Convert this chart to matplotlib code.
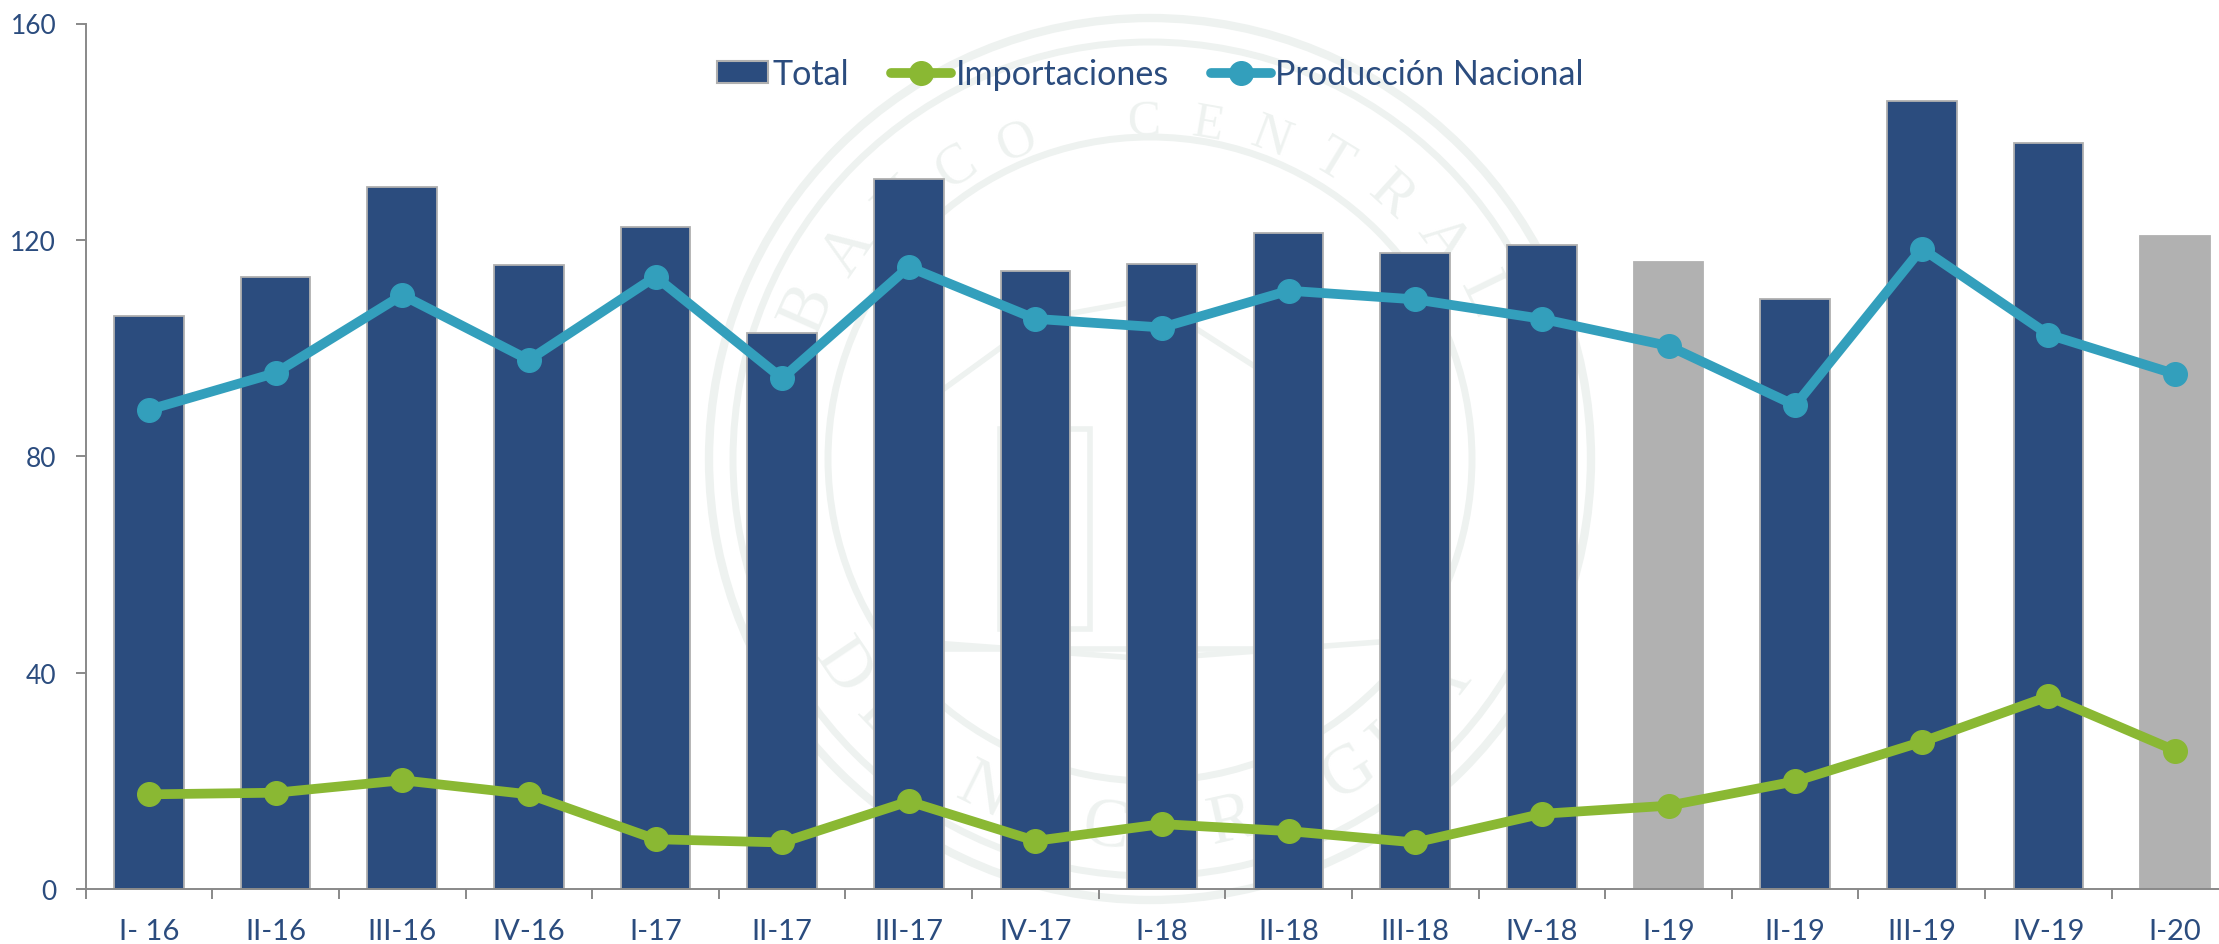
import numpy as np
import matplotlib
matplotlib.use("Agg")
import matplotlib.pyplot as plt
from matplotlib.patches import Circle, Polygon, Rectangle
from matplotlib.lines import Line2D
from matplotlib.legend_handler import HandlerPatch

quarters = ["I- 16", "II-16", "III-16", "IV-16", "I-17", "II-17", "III-17", "IV-17", "I-18",
            "II-18", "III-18", "IV-18", "I-19", "II-19", "III-19", "IV-19", "I-20"]
total = [105.9, 113.2, 129.7, 115.3, 122.4, 102.7, 131.2, 114.2, 115.6,
         121.3, 117.6, 119.0, 116.0, 109.0, 145.6, 138.0, 120.8]
importaciones = [17.5, 17.8, 20.1, 17.5, 9.2, 8.6, 16.2, 8.9, 12.0,
                 10.7, 8.6, 13.9, 15.4, 19.9, 27.2, 35.6, 25.6]
produccion = [88.6, 95.4, 109.8, 97.8, 113.2, 94.4, 115.0, 105.4, 103.8,
              110.6, 109.0, 105.4, 100.4, 89.4, 118.4, 102.5, 95.2]
gray_quarters = ["I-19", "I-20"]

W, H = 2219, 945
NAVY, GREEN, TEAL, BARGRAY, EDGE, AXIS, TXT, WM = ("#2b4c7e", "#8ab833", "#339fbc", "#b1b1b1",
                                                  "#b0b0b0", "#898989", "#2b4c7e", "#eef2f0")
plt.rcParams["font.family"] = ["Lato", "DejaVu Sans"]
fig = plt.figure(figsize=(W / 100, H / 100), dpi=100)

# watermark seal, in pixel coordinates
bg = fig.add_axes([0, 0, 1, 1], zorder=0)
bg.set_xlim(0, W); bg.set_ylim(H, 0); bg.axis("off")
cx, cy = 1150, 460
for r, lw in [(441, 6), (417, 5), (322, 5)]:
    bg.add_patch(Circle((cx, cy), r, fill=False, ec=WM, lw=lw))
def arc_text(s, a0, a1, top=True):
    for ch, a in zip(s, np.linspace(a0, a1, len(s))):
        c2 = np.cos(np.radians(a)) ** 2
        r = 338 + 42 * c2 if top else 372
        fs = 36 + 16 * c2 if top else 50
        x = cx + r * np.cos(np.radians(a)); y = cy - r * np.sin(np.radians(a))
        bg.text(x, y, ch, color=WM, family="Liberation Serif", fontsize=fs, ha="center", va="center",
                rotation=(a - 90) if top else (a + 90))
arc_text("BANCO CENTRAL", 156, 26)
arc_text("DE NICARAGUA", 214, 322, top=False)
bg.add_patch(Polygon([(930, 650), (930, 400), (1040, 320), (1150, 300), (1290, 390), (1290, 650)],
                     closed=True, fill=False, ec=WM, lw=4))
bg.add_patch(Rectangle((1000, 430), 90, 200, fill=False, ec=WM, lw=4))
bg.add_patch(Rectangle((1130, 330), 40, 320, fill=False, ec=WM, lw=4))
bg.plot([880, 1150, 1420], [640, 660, 640], color=WM, lw=4)

# main chart
Y0, Y160 = 890, 24.5
step = (2175 - 149) / 16
xmax = (W - 149) / step
ax = fig.add_axes([85.7 / W, 1 - Y0 / H, (W - 85.7) / W, (Y0 - Y160) / H], zorder=1)
ax.patch.set_alpha(0)
x = np.arange(len(quarters))
colors = [BARGRAY if q in gray_quarters else NAVY for q in quarters]
edges = [BARGRAY if q in gray_quarters else EDGE for q in quarters]
ax.bar(x, total, width=0.55, color=colors, edgecolor=edges, linewidth=1.3, zorder=2)
ax.plot(x, importaciones, color=GREEN, lw=7, marker="o", ms=17, zorder=3)
ax.plot(x, produccion, color=TEAL, lw=7, marker="o", ms=17, zorder=3)
ax.set_xlim(-0.5, xmax)
ax.set_ylim(0, 160)
ax.set_yticks([0, 40, 80, 120, 160])
ax.set_xticks(x)
ax.set_xticklabels(quarters)
ax.set_xticks(np.arange(-0.5, xmax, 1), minor=True)
ax.tick_params(axis="x", which="major", length=0, pad=21, labelsize=21, labelcolor=TXT)
ax.tick_params(axis="x", which="minor", length=7.2, width=1.4, color=AXIS)
ax.tick_params(axis="y", length=7.2, width=1.4, color=AXIS, pad=14, labelsize=19, labelcolor=TXT)
for s in ("top", "right"):
    ax.spines[s].set_visible(False)
for s in ("left", "bottom"):
    ax.spines[s].set_color(AXIS); ax.spines[s].set_linewidth(1.4)

def narrow_patch(legend, orig_handle, xdescent, ydescent, width, height, fontsize):
    w = width * 0.85
    return Rectangle((width - w - xdescent, -ydescent), w, height)

patch = Rectangle((0, 0), 1, 1, fc=NAVY, ec=EDGE, lw=1.5)
handles = [patch,
           Line2D([], [], color=GREEN, lw=7, marker="o", ms=17, solid_capstyle="round"),
           Line2D([], [], color=TEAL, lw=7, marker="o", ms=17, solid_capstyle="round")]
ax.legend(handles, ["Total", "Importaciones", "Producción Nacional"], ncol=3, frameon=False,
          fontsize=24.6, labelcolor=TXT, handlelength=1.75, handleheight=0.58, handletextpad=0.12,
          columnspacing=1.25, loc="center",
          handler_map={patch: HandlerPatch(patch_func=narrow_patch)},
          bbox_to_anchor=((1146 - 85.7) / (W - 85.7), 1 - (75 - Y160) / (Y0 - Y160)))
fig.savefig("out.png", dpi=100)
